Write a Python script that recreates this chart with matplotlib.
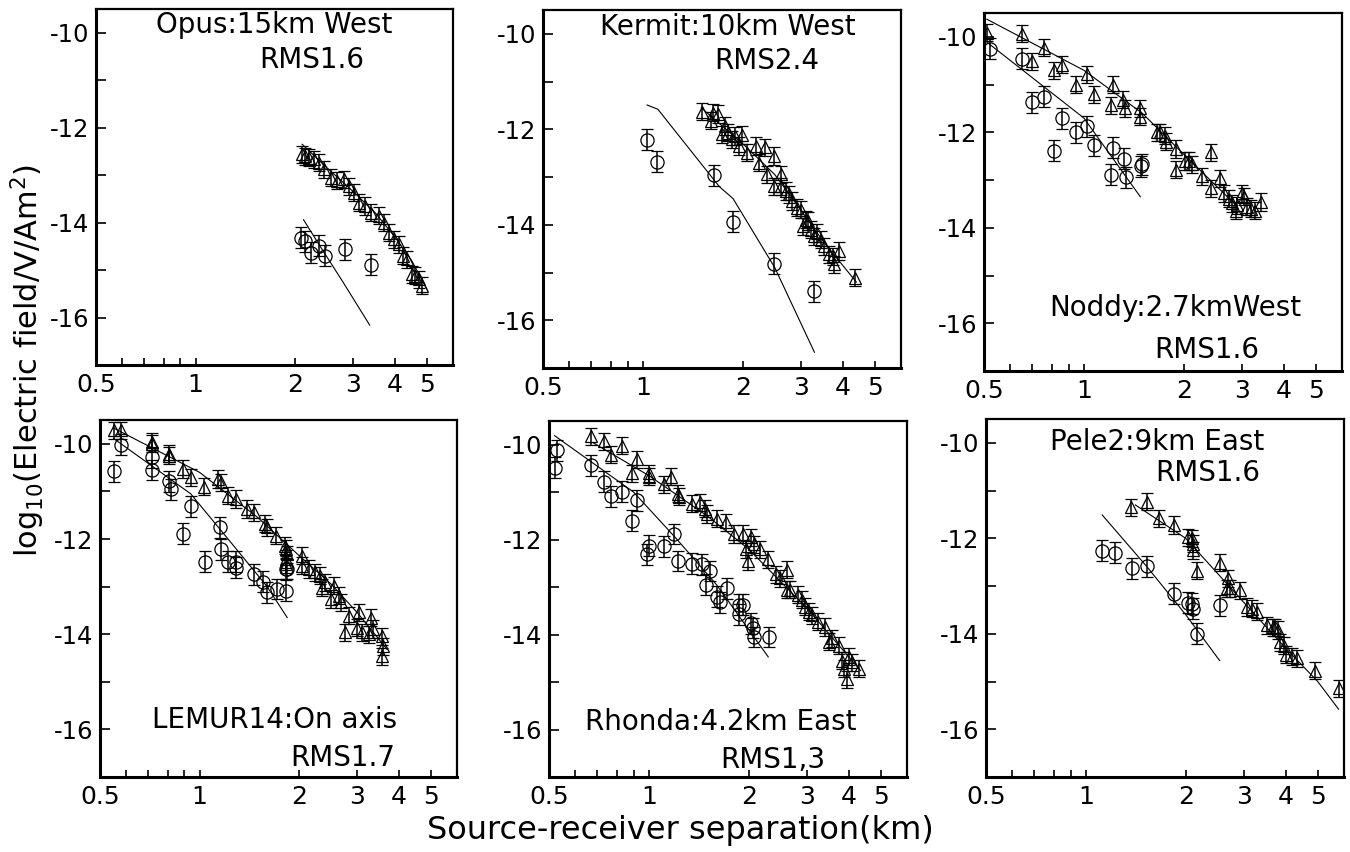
import numpy as np
import matplotlib
matplotlib.use('Agg')
import matplotlib.pyplot as plt
from matplotlib.ticker import FixedLocator, FixedFormatter, NullFormatter

plt.rcParams['font.family'] = ['DejaVu Sans']
plt.rcParams['axes.unicode_minus'] = False

# ---------------- data ----------------
xticks = [0.5, 1, 2, 3, 4, 5]
xtick_labels = ['0.5', '1', '2', '3', '4', '5']
xminor = [0.6, 0.7, 0.8, 0.9]
yticks = [-10, -12, -14, -16]
ytick_labels = ['-10', '-12', '-14', '-16']
yminor = [-11, -13, -15]

# Panel 1 : Opus
opus_tri_x = [2.10, 2.14, 2.20, 2.28, 2.36, 2.44, 2.56, 2.68, 2.81, 2.90, 3.01, 3.11, 3.26, 3.38, 3.58, 3.70,
              3.83, 3.97, 4.11, 4.25, 4.35, 4.51, 4.61, 4.72, 4.83]
opus_tri_y = [-12.56, -12.60, -12.63, -12.67, -12.74, -12.88, -13.05, -13.12, -13.09, -13.23, -13.37, -13.58,
              -13.65, -13.79, -13.86, -14.00, -14.21, -14.35, -14.46, -14.70, -14.77, -15.09, -15.12, -15.19, -15.33]
opus_circ_x = [2.08, 2.14, 2.23, 2.36, 2.47, 2.83, 3.40]
opus_circ_y = [-14.32, -14.39, -14.63, -14.49, -14.70, -14.56, -14.89]
opus_tri_model_x = [2.1, 2.5, 3.0, 3.5, 4.0, 4.5, 5.0]
opus_tri_model_y = [-12.35, -12.85, -13.35, -13.80, -14.30, -14.80, -15.40]
opus_circ_model_x = [2.12, 2.4, 2.8, 3.36]
opus_circ_model_y = [-13.94, -14.54, -15.27, -16.16]

# Panel 2 : Kermit
kermit_tri_x = [1.51, 1.60, 1.63, 1.69, 1.73, 1.77, 1.80, 1.86, 1.90, 1.95, 1.99, 2.06, 2.19, 2.24, 2.34, 2.37,
                2.48, 2.48, 2.60, 2.60, 2.70, 2.76, 2.82, 2.92, 2.99, 3.03, 3.10, 3.14, 3.21, 3.29, 3.36, 3.44,
                3.52, 3.65, 3.73, 3.78, 3.91, 4.35]
kermit_tri_y = [-11.63, -11.82, -11.65, -11.68, -12.10, -11.93, -12.07, -12.21, -12.14, -12.35, -12.12, -12.49,
                -12.35, -12.70, -12.38, -12.94, -12.56, -13.19, -12.94, -13.19, -13.29, -13.36, -13.50, -13.64,
                -13.68, -14.03, -13.89, -13.92, -14.10, -14.24, -14.17, -14.31, -14.45, -14.62, -14.66, -14.83,
                -14.55, -15.11]
kermit_circ_x = [1.03, 1.10, 1.64, 1.87, 2.48, 3.29]
kermit_circ_y = [-12.22, -12.68, -12.96, -13.94, -14.82, -15.39]
kermit_tri_model_x = [1.5, 2.0, 2.5, 3.0, 3.5, 4.4]
kermit_tri_model_y = [-11.55, -12.30, -12.95, -13.70, -14.35, -15.20]
kermit_circ_model_x = [1.03, 1.11, 1.70, 1.87, 2.5, 3.29]
kermit_circ_model_y = [-11.49, -11.58, -13.20, -13.45, -14.90, -16.67]

# Panel 3 : Noddy
noddy_tri_x = [0.51, 0.65, 0.70, 0.76, 0.81, 0.86, 0.95, 1.02, 1.07, 1.22, 1.21, 1.31, 1.33, 1.48, 1.48, 1.66,
               1.70, 1.76, 1.77, 1.89, 1.89, 2.02, 2.07, 2.12, 2.27, 2.41, 2.41, 2.58, 2.64, 2.74, 2.80, 2.87,
               2.90, 3.00, 3.04, 3.11, 3.18, 3.29, 3.41]
noddy_tri_y = [-9.91, -9.93, -10.51, -10.23, -10.70, -10.58, -11.00, -10.78, -11.20, -11.00, -11.43, -11.32,
               -11.50, -11.50, -11.67, -12.00, -12.00, -12.07, -12.20, -12.35, -12.78, -12.60, -12.60, -12.67,
               -12.92, -12.42, -13.17, -12.96, -13.28, -13.39, -13.49, -13.64, -13.53, -13.28, -13.35, -13.56,
               -13.60, -13.64, -13.46]
noddy_circ_x = [0.52, 0.65, 0.70, 0.76, 0.81, 0.86, 0.95, 1.02, 1.07, 1.22, 1.21, 1.32, 1.34, 1.49, 1.50]
noddy_circ_y = [-10.25, -10.46, -11.37, -11.25, -12.39, -11.70, -12.00, -11.87, -12.27, -12.32, -12.89, -12.55,
                -12.94, -12.71, -12.67]
noddy_tri_model_x = [0.51, 1.0, 1.5, 2.0, 2.85]
noddy_tri_model_y = [-9.63, -10.70, -11.60, -12.46, -13.50]
noddy_circ_model_x = [0.51, 1.0, 1.48]
noddy_circ_model_y = [-10.11, -11.70, -13.35]

# Panel 4 : LEMUR14
lemur_tri_x = [0.55, 0.58, 0.72, 0.72, 0.81, 0.81, 0.89, 0.94, 1.03, 1.14, 1.16, 1.22, 1.29, 1.39, 1.46, 1.58,
               1.60, 1.70, 1.81, 1.82, 1.84, 1.82, 1.82, 2.04, 2.04, 2.14, 2.24, 2.32, 2.35, 2.40, 2.49, 2.55,
               2.64, 2.67, 2.76, 2.83, 3.00, 3.03, 3.10, 3.25, 3.29, 3.35, 3.57, 3.59, 3.57]
lemur_tri_y = [-9.72, -9.72, -9.96, -10.00, -10.21, -10.25, -10.53, -10.70, -10.90, -10.74, -10.81, -11.09,
               -11.16, -11.37, -11.44, -11.68, -11.75, -11.93, -12.14, -12.21, -12.32, -12.42, -12.53, -12.35,
               -12.56, -12.63, -12.70, -12.77, -13.02, -12.91, -13.26, -12.98, -13.19, -13.33, -13.96, -13.61,
               -13.86, -13.54, -13.96, -14.00, -13.65, -13.89, -14.04, -14.25, -14.46]
lemur_circ_x = [0.55, 0.58, 0.72, 0.72, 0.81, 0.82, 0.89, 0.94, 1.04, 1.15, 1.16, 1.22, 1.29, 1.29, 1.46, 1.56,
                1.60, 1.71, 1.82, 1.82, 1.84]
lemur_circ_y = [-10.58, -10.02, -10.28, -10.55, -10.79, -10.96, -11.89, -11.31, -12.48, -11.75, -12.22, -12.48,
                -12.48, -12.60, -12.74, -12.90, -13.12, -13.05, -13.09, -12.63, -12.63]
lemur_tri_model_x = [0.55, 1.0, 1.5, 2.0, 2.5, 3.0, 3.69]
lemur_tri_model_y = [-9.67, -10.60, -11.55, -12.35, -12.95, -13.55, -14.32]
lemur_circ_model_x = [0.55, 0.94, 1.27, 1.6, 1.84]
lemur_circ_model_y = [-9.89, -11.05, -12.15, -13.00, -13.65]

# Panel 5 : Rhonda
rhonda_tri_x = [0.67, 0.73, 0.77, 0.83, 0.89, 0.92, 1.00, 1.00, 1.11, 1.17, 1.22, 1.23, 1.35, 1.43, 1.48, 1.50,
                1.60, 1.71, 1.81, 1.92, 1.96, 1.99, 2.03, 2.08, 2.16, 2.29, 2.42, 2.48, 2.60, 2.60, 2.66, 2.82,
                2.89, 2.96, 3.03, 3.10, 3.24, 3.40, 3.48, 3.56, 3.73, 3.82, 3.87, 3.96, 4.00, 4.10, 4.30]
rhonda_tri_y = [-9.82, -9.93, -10.21, -10.02, -10.60, -10.31, -10.60, -10.67, -10.83, -10.67, -11.03, -11.10,
                -11.24, -11.21, -11.35, -11.46, -11.56, -11.63, -11.88, -11.88, -12.20, -12.45, -11.95, -12.10,
                -12.20, -12.41, -12.73, -12.81, -12.63, -13.05, -13.05, -13.16, -13.27, -13.41, -13.52, -13.59,
                -13.73, -13.84, -14.15, -14.08, -14.23, -14.55, -14.72, -14.94, -14.47, -14.58, -14.72]
rhonda_circ_x = [0.52, 0.53, 0.67, 0.73, 0.77, 0.83, 0.92, 0.89, 0.99, 1.00, 1.11, 1.19, 1.22, 1.35, 1.45, 1.53,
                 1.49, 1.61, 1.72, 1.64, 1.87, 1.92, 1.87, 2.03, 2.06, 2.08, 2.31]
rhonda_circ_y = [-10.48, -10.12, -10.43, -10.78, -11.09, -10.99, -11.17, -11.60, -12.31, -12.13, -12.14, -11.88,
                 -12.45, -12.51, -12.52, -12.66, -12.95, -13.20, -13.02, -13.32, -13.37, -13.37, -13.57, -13.76,
                 -13.86, -14.05, -14.05]
rhonda_tri_model_x = [0.68, 1.0, 1.5, 2.0, 3.0, 4.35]
rhonda_tri_model_y = [-9.96, -10.65, -11.50, -12.20, -13.45, -14.76]
rhonda_circ_model_x = [0.52, 0.9, 1.2, 1.6, 2.29]
rhonda_circ_model_y = [-9.81, -11.00, -11.95, -12.95, -14.47]

# Panel 6 : Pele2
pele_tri_x = [1.37, 1.53, 1.66, 1.85, 2.03, 2.09, 2.11, 2.11, 2.17, 2.54, 2.69, 2.66, 2.72, 2.92, 3.06, 3.17,
              3.27, 3.52, 3.66, 3.72, 3.79, 3.86, 3.95, 4.02, 4.19, 4.33, 4.92, 5.78]
pele_tri_y = [-11.35, -11.23, -11.58, -11.72, -11.98, -12.00, -12.11, -12.25, -12.68, -12.51, -12.84, -13.05,
              -13.05, -13.09, -13.44, -13.47, -13.54, -13.82, -13.86, -13.86, -13.92, -14.18, -14.25, -14.44,
              -14.48, -14.51, -14.77, -15.14]
pele_circ_x = [1.12, 1.22, 1.38, 1.53, 1.85, 2.03, 2.09, 2.11, 2.16, 2.54]
pele_circ_y = [-12.26, -12.30, -12.63, -12.58, -13.16, -13.35, -13.37, -13.47, -14.00, -13.40]
pele_tri_model_x = [1.41, 2.0, 3.0, 4.0, 5.0, 5.78]
pele_tri_model_y = [-11.30, -12.00, -13.35, -14.30, -15.00, -15.58]
pele_circ_model_x = [1.12, 1.53, 2.0, 2.53]
pele_circ_model_y = [-11.51, -12.60, -13.60, -14.56]

tri_err = 0.18
circ_err = 0.22

names = ['Opus:15km West', 'Kermit:10km West', 'Noddy:2.7kmWest',
         'LEMUR14:On axis', 'Rhonda:4.2km East', 'Pele2:9km East']
rms = ['RMS1.6', 'RMS2.4', 'RMS1.6', 'RMS1.7', 'RMS1,3', 'RMS1.6']

panels = [
    (opus_tri_x, opus_tri_y, opus_circ_x, opus_circ_y, opus_tri_model_x, opus_tri_model_y, opus_circ_model_x, opus_circ_model_y),
    (kermit_tri_x, kermit_tri_y, kermit_circ_x, kermit_circ_y, kermit_tri_model_x, kermit_tri_model_y, kermit_circ_model_x, kermit_circ_model_y),
    (noddy_tri_x, noddy_tri_y, noddy_circ_x, noddy_circ_y, noddy_tri_model_x, noddy_tri_model_y, noddy_circ_model_x, noddy_circ_model_y),
    (lemur_tri_x, lemur_tri_y, lemur_circ_x, lemur_circ_y, lemur_tri_model_x, lemur_tri_model_y, lemur_circ_model_x, lemur_circ_model_y),
    (rhonda_tri_x, rhonda_tri_y, rhonda_circ_x, rhonda_circ_y, rhonda_tri_model_x, rhonda_tri_model_y, rhonda_circ_model_x, rhonda_circ_model_y),
    (pele_tri_x, pele_tri_y, pele_circ_x, pele_circ_y, pele_tri_model_x, pele_tri_model_y, pele_circ_model_x, pele_circ_model_y),
]

# ---------------- layout ----------------
W, H = 1350, 852
boxes_px = [(96, 9, 453, 365), (543, 10, 901, 368), (984, 13, 1342, 371),
            (100, 420, 457, 777), (549, 421, 907, 777), (986, 419, 1344, 777)]
name_pos = [(0.50, 0.955), (0.517, 0.952), (0.533, 0.176), (0.488, 0.16), (0.48, 0.154), (0.478, 0.936)]
rms_pos = [(0.605, 0.857), (0.626, 0.858), (0.623, 0.06), (0.68, 0.053), (0.625, 0.048), (0.62, 0.85)]

fig = plt.figure(figsize=(W / 100, H / 100), dpi=100)

for i, (box, data) in enumerate(zip(boxes_px, panels)):
    l, t, r, b = box
    ax = fig.add_axes([l / W, 1 - b / H, (r - l) / W, (b - t) / H])
    tx, ty, cx, cy, tmx, tmy, cmx, cmy = data
    ax.plot(tmx, tmy, color='black', lw=0.8, zorder=2)
    ax.plot(cmx, cmy, color='black', lw=0.8, zorder=2)
    ax.errorbar(tx, ty, yerr=tri_err, fmt='^', ms=8, mfc='none', mec='black', mew=0.9,
                ecolor='black', elinewidth=1.1, capsize=4.5, capthick=1.1, zorder=3)
    ax.errorbar(cx, cy, yerr=circ_err, fmt='o', ms=9.5, mfc='none', mec='black', mew=0.9,
                ecolor='black', elinewidth=1.1, capsize=4.5, capthick=1.1, zorder=3)
    ax.set_xscale('log')
    ax.set_xlim(0.5, 6.0)
    ax.set_ylim(-17, -9.5)
    ax.xaxis.set_major_locator(FixedLocator(xticks))
    ax.xaxis.set_major_formatter(FixedFormatter(xtick_labels))
    ax.xaxis.set_minor_locator(FixedLocator(xminor))
    ax.xaxis.set_minor_formatter(NullFormatter())
    ax.yaxis.set_major_locator(FixedLocator(yticks))
    ax.yaxis.set_major_formatter(FixedFormatter(ytick_labels))
    ax.yaxis.set_minor_locator(FixedLocator(yminor))
    ax.tick_params(axis='x', which='both', direction='in', length=5, width=1.2, labelsize=18, pad=6)
    ax.tick_params(axis='y', which='both', direction='in', length=7, width=1.2, labelsize=17.5, pad=5)
    for side, sp in ax.spines.items():
        sp.set_linewidth(2.2 if side in ('left', 'bottom') else 1.6)
    ax.text(name_pos[i][0], name_pos[i][1], names[i], transform=ax.transAxes,
            ha='center', va='center', fontsize=20)
    ax.text(rms_pos[i][0], rms_pos[i][1], rms[i], transform=ax.transAxes,
            ha='center', va='center', fontsize=20)

fig.text(28 / W, 1 - 360 / H, r'log$_{10}$(Electric field/V/Am$^2$)', rotation=90,
         ha='center', va='center', fontsize=22)
fig.text(680 / W, 1 - 830 / H, 'Source-receiver separation(km)', ha='center', va='center', fontsize=23)

fig.savefig('out.png', dpi=100)
